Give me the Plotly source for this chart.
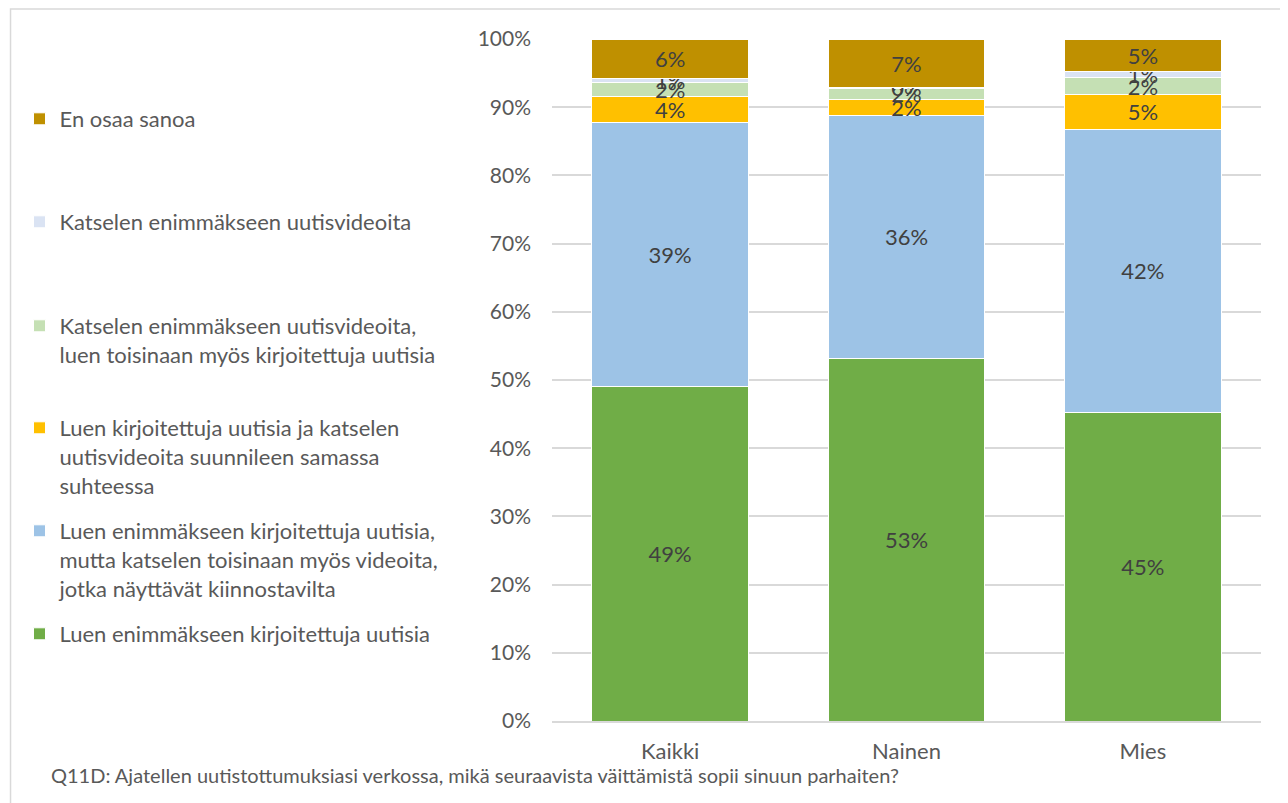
import plotly.graph_objects as go

categories = ["Kaikki", "Nainen", "Mies"]

# shares in percent, bottom to top
luen_enimmakseen = [49.0, 53.2, 45.2]
luen_ja_videot = [38.7, 35.6, 41.6]
suunnilleen_samassa = [3.8, 2.3, 5.1]
katselen_ja_luen = [2.1, 1.7, 2.4]
katselen_videoita = [0.6, 0.1, 0.9]
en_osaa_sanoa = [5.8, 7.1, 4.8]

series_names = [
    "Luen enimmäkseen kirjoitettuja uutisia",
    "Luen enimmäkseen kirjoitettuja uutisia,<br>mutta katselen toisinaan myös videoita,<br>jotka näyttävät kiinnostavilta",
    "Luen kirjoitettuja uutisia ja katselen<br>uutisvideoita suunnileen samassa<br>suhteessa",
    "Katselen enimmäkseen uutisvideoita,<br>luen toisinaan myös kirjoitettuja uutisia",
    "Katselen enimmäkseen uutisvideoita",
    "En osaa sanoa",
]
series_values = [luen_enimmakseen, luen_ja_videot, suunnilleen_samassa,
                 katselen_ja_luen, katselen_videoita, en_osaa_sanoa]
colors = ["#70AD47", "#9DC3E6", "#FFC000", "#C5E0B4", "#DAE3F3", "#BF9000"]

footnote = ("Q11D: Ajatellen uutistottumuksiasi verkossa, mikä seuraavista "
            "väittämistä sopii sinuun parhaiten?")

FONT = "Lato, sans-serif"

# page body has an 8px margin, so the figure is laid out 8px up/left of the screen
W, H = 1280, 795
ML, MR, MT, MB = 542, 27, 31, 82
plot_w = W - ML - MR
plot_h = H - MT - MB

# first-line centre of each legend entry on screen (bottom series first)
legend_rows = [635, 532, 429, 327, 223, 120]

fig = go.Figure()
layout_legends = {}
for i, (name, vals, col) in enumerate(zip(series_names, series_values, colors)):
    key = "legend" if i == 0 else f"legend{i + 1}"
    fig.add_trace(go.Bar(
        x=categories, y=vals, name=name,
        marker=dict(color=col, line=dict(color="white", width=1)),
        texttemplate="%{y:.0f}%", textposition="inside",
        insidetextanchor="middle", textangle=0,
        textfont=dict(family=FONT, size=22, color="#404040"),
        hoverinfo="skip", legend=key,
    ))
    top_px = legend_rows[i] - 8 - 22
    layout_legends[key] = dict(
        x=(8 - ML) / plot_w, xanchor="left",
        y=(plot_h - (top_px - MT)) / plot_h, yanchor="top",
        valign="top", bgcolor="rgba(0,0,0,0)",
        font=dict(family=FONT, size=22, color="#595959"),
    )

fig.update_layout(
    barmode="stack", bargap=0.336,
    width=W, height=H,
    margin=dict(l=ML, r=MR, t=MT, b=MB),
    paper_bgcolor="white", plot_bgcolor="white",
    font=dict(family=FONT, size=22, color="#595959"),
    uniformtext=dict(minsize=22, mode="show"),
    showlegend=True,
    **layout_legends,
)

fig.update_yaxes(
    range=[0, 100], dtick=10, ticksuffix="%",
    showgrid=True, gridcolor="#D9D9D9", gridwidth=1.5,
    zeroline=False, showline=False,
    ticklabelstandoff=20,
    tickfont=dict(family=FONT, size=21, color="#595959"),
)
fig.update_xaxes(
    showline=True, linecolor="#D9D9D9", linewidth=1.5,
    ticklabelstandoff=10,
    tickfont=dict(family=FONT, size=22, color="#595959"),
)

# outer chart border
fig.add_shape(type="rect", xref="paper", yref="paper",
              x0=(-1 - ML) / plot_w, x1=1.2,
              y0=-0.3, y1=(plot_h + MT - 1) / plot_h,
              line=dict(color="#D9D9D9", width=1.5), fillcolor="rgba(0,0,0,0)",
              layer="below")

fig.add_annotation(text=footnote, xref="paper", yref="paper",
                   x=(38 - ML) / plot_w, y=-(775 - 8 - MT - plot_h) / plot_h,
                   xanchor="left", yanchor="middle",
                   showarrow=False,
                   font=dict(family=FONT, size=20, color="#595959"))

fig.write_html("out.html")
